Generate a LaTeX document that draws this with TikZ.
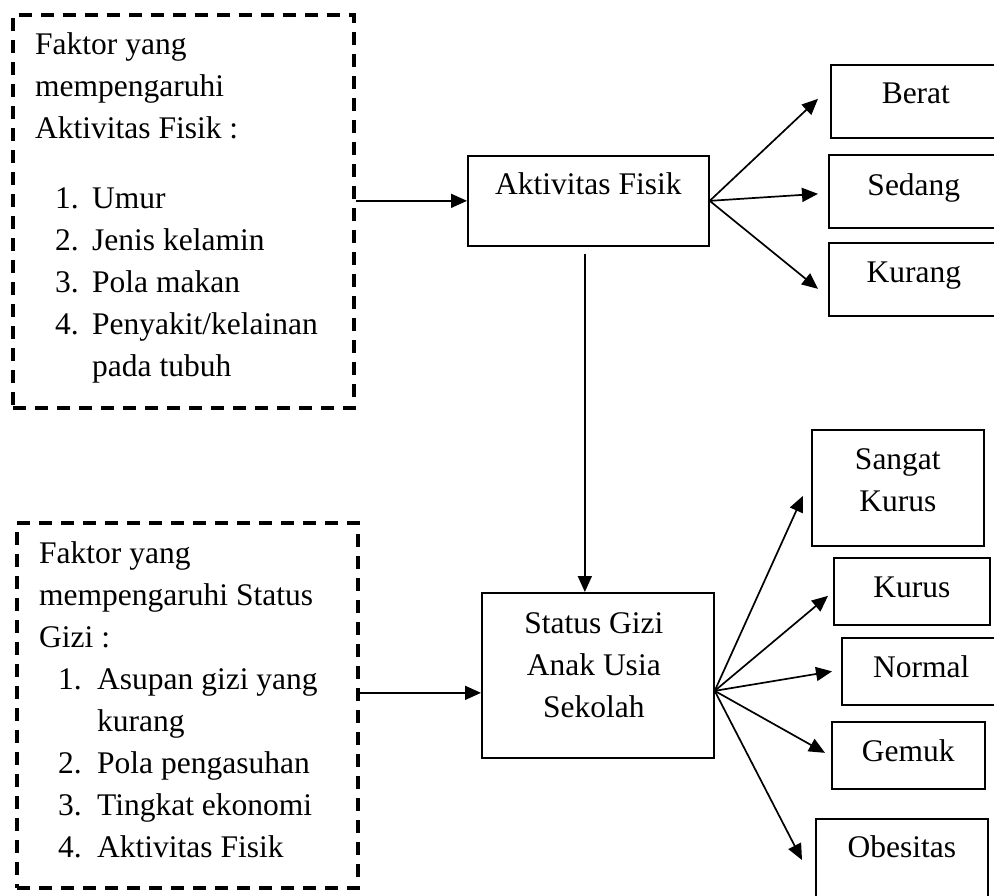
\documentclass[tikz,border=0pt]{standalone}
\usepackage{fontspec}
\setmainfont{Liberation Serif}
\usetikzlibrary{arrows.meta}
\begin{document}
\begin{tikzpicture}[x=1pt,y=-1pt,
  every node/.style={font=\fontsize{31.5}{42}\selectfont},
  dbox/.style={draw, dash pattern=on 13pt off 9pt, line width=3.3pt, inner sep=0pt},
  sbox/.style={draw, line width=1.7pt, inner sep=0pt, anchor=north west},
  lbl/.style={inner sep=0pt, anchor=base west},
  arr/.style={line width=1.7pt, -{Triangle[length=16pt,width=14pt]}}]
\path[use as bounding box, clip] (0,0) rectangle (994,896);

% dashed factor boxes
\node[dbox, minimum width=341pt, minimum height=393pt] (fa) at (183.5,211.5) {};
\node[dbox, minimum width=341pt, minimum height=365pt] (fb) at (187.5,705.5) {};

\node[lbl] (fatext) at (35,55) {\begin{tabular}[t]{@{}l@{}}
Faktor yang\\
mempengaruhi\\
Aktivitas Fisik :\\[28pt]
\hspace*{20pt}\makebox[37pt][l]{1.}Umur\\
\hspace*{20pt}\makebox[37pt][l]{2.}Jenis kelamin\\
\hspace*{20pt}\makebox[37pt][l]{3.}Pola makan\\
\hspace*{20pt}\makebox[37pt][l]{4.}Penyakit/kelainan\\
\hspace*{57pt}pada tubuh
\end{tabular}};

\node[lbl] (fbtext) at (39,563) {\begin{tabular}[t]{@{}l@{}}
Faktor yang\\
mempengaruhi Status\\
Gizi :\\
\hspace*{19pt}\makebox[39pt][l]{1.}Asupan gizi yang\\
\hspace*{58pt}kurang\\
\hspace*{19pt}\makebox[39pt][l]{2.}Pola pengasuhan\\
\hspace*{19pt}\makebox[39pt][l]{3.}Tingkat ekonomi\\
\hspace*{19pt}\makebox[39pt][l]{4.}Aktivitas Fisik
\end{tabular}};

% central boxes
\node[sbox, minimum width=241pt, text height=39pt, text depth=51pt] (akt) at (467,155) {Aktivitas Fisik};
\node[sbox, minimum width=232pt, text height=41pt, text depth=124pt] (sg) at (481,592)
  {\begin{tabular}[t]{@{}c@{}}Status Gizi\\Anak Usia\\Sekolah\end{tabular}\hspace*{8pt}};

% upper outcome boxes
\node[sbox, minimum width=170pt, text height=39pt, text depth=34pt] (berat) at (830,64) {Berat};
\node[sbox, minimum width=170pt, text height=41pt, text depth=32pt] (sedang) at (828,154) {Sedang};
\node[sbox, minimum width=170pt, text height=40pt, text depth=33pt] (kurang) at (828,242) {Kurang};

% lower outcome boxes
\node[sbox, minimum width=172pt, text height=40pt, text depth=76pt] (sk) at (811,429)
  {\begin{tabular}[t]{@{}c@{}}Sangat\\Kurus\end{tabular}};
\node[sbox, minimum width=156pt, text height=40pt, text depth=27pt] (kurus) at (833,557) {Kurus};
\node[sbox, minimum width=159pt, text height=40pt, text depth=27pt] (normal) at (841,637) {Normal};
\node[sbox, minimum width=153pt, text height=40pt, text depth=27pt] (gemuk) at (831,721) {Gemuk};
\node[sbox, minimum width=172pt, text height=39pt, text depth=60pt] (obes) at (815,818) {Obesitas};

% connectors
\draw[arr] (fa.east |- akt.west) -- (akt.west);
\coordinate (sgin) at ([yshift=-17.5pt]sg.west);
\draw[arr] (fb.east |- sgin) -- (sgin);

\coordinate (vtop) at ([xshift=-3.5pt,yshift=-7pt]akt.south);
\draw[arr] (vtop) -- (vtop |- sg.north);

\draw[arr] (akt.east) -- ([xshift=-12pt,yshift=2.5pt]berat.west);
\draw[arr] (akt.east) -- ([xshift=-10pt,yshift=-2.5pt]sedang.west);
\draw[arr] (akt.east) -- ([xshift=-10pt,yshift=-9.5pt]kurang.west);

\coordinate (sgo) at ([yshift=-15.5pt]sg.east);
\draw[arr] (sgo) -- ([xshift=-8pt,yshift=-8pt]sk.west);
\draw[arr] (sgo) -- ([xshift=-5pt,yshift=-4.5pt]kurus.west);
\draw[arr] (sgo) -- ([xshift=-9pt]normal.west);
\draw[arr] (sgo) -- ([xshift=-6pt,yshift=2.5pt]gemuk.west);
\draw[arr] (sgo) -- ([xshift=-13pt,yshift=-42pt]obes.north west);
\end{tikzpicture}
\end{document}
